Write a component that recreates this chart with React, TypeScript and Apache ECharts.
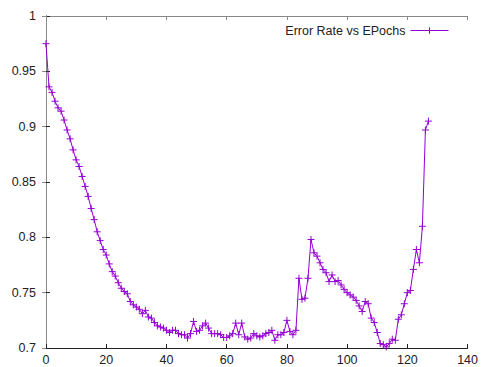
import React, { useEffect, useRef } from "react";
import * as echarts from "echarts";

const seriesName = "Error Rate vs EPochs";
const xTicks = { min: 0, max: 140, interval: 20 };
const yTicks = { min: 0.7, max: 1, interval: 0.05 };
const errorRate: number[] = [
  0.975, 0.936, 0.931, 0.923, 0.917, 0.914, 0.906, 0.897, 0.889, 0.879,
  0.870, 0.864, 0.855, 0.846, 0.837, 0.826, 0.816, 0.805, 0.797, 0.789,
  0.784, 0.776, 0.769, 0.765, 0.759, 0.754, 0.751, 0.749, 0.742, 0.739,
  0.737, 0.735, 0.731, 0.734, 0.728, 0.727, 0.723, 0.720, 0.719, 0.718,
  0.716, 0.714, 0.716, 0.716, 0.713, 0.712, 0.712, 0.709, 0.713, 0.724,
  0.715, 0.716, 0.720, 0.7225, 0.718, 0.713, 0.713, 0.713, 0.712, 0.7095,
  0.7095, 0.711, 0.713, 0.7225, 0.712, 0.7225, 0.710, 0.708, 0.709, 0.713,
  0.711, 0.710, 0.711, 0.713, 0.714, 0.716, 0.707, 0.712, 0.712, 0.714,
  0.725, 0.715, 0.712, 0.716, 0.763, 0.744, 0.745, 0.763, 0.798, 0.786,
  0.783, 0.777, 0.771, 0.768, 0.760, 0.766, 0.760, 0.761, 0.757, 0.753,
  0.750, 0.748, 0.746, 0.743, 0.738, 0.733, 0.742, 0.740, 0.727, 0.723,
  0.714, 0.704, 0.703, 0.701, 0.704, 0.708, 0.707, 0.726, 0.730, 0.740,
  0.750, 0.752, 0.771, 0.789, 0.777, 0.810, 0.897, 0.905,
];
const epochs: number[] = errorRate.map((_, i) => i);

const FONT = "Liberation Sans, Arial, sans-serif";
const PURPLE = "#9400d3";
const PLUS = "path://M5,0L5,10M0,5L10,5";

export default function App() {
  const ref = useRef<HTMLDivElement>(null);
  useEffect(() => {
    if (!ref.current) return;
    const chart = echarts.init(ref.current, undefined, { renderer: "svg" });
    const fmtY = (v: number) => String(parseFloat(v.toFixed(2)));
    const baseAxisLine = { show: true, lineStyle: { color: "#222", width: 1 } };
    chart.setOption({
      animation: false,
      backgroundColor: "#fff",
      grid: { left: 46, right: 13, top: 16, bottom: 19, containLabel: false },
      legend: {
        show: true,
        right: 27,
        top: 19,
        itemWidth: 38,
        itemHeight: 8,
        align: "right",
        itemGap: 8,
        itemStyle: { color: "none", borderColor: PURPLE, borderWidth: 1 },
        lineStyle: { color: PURPLE, width: 1 },
        textStyle: { fontFamily: FONT, fontSize: 12.5, color: "#222" },
        data: [seriesName],
      },
      xAxis: [
        {
          type: "value",
          ...xTicks,
          axisLine: baseAxisLine,
          axisTick: { show: true, inside: true, length: 4, lineStyle: { color: "#222" } },
          axisLabel: { fontFamily: FONT, fontSize: 12.5, color: "#222", margin: 5 },
          splitLine: { show: false },
        },
        {
          type: "value",
          position: "top",
          ...xTicks,
          axisLine: { show: true, lineStyle: { color: "#888", width: 1 } },
          axisTick: { show: true, inside: true, length: 4, lineStyle: { color: "#888" } },
          axisLabel: { show: false },
          splitLine: { show: false },
        },
      ],
      yAxis: [
        {
          type: "value",
          ...yTicks,
          axisLine: baseAxisLine,
          axisTick: { show: true, inside: true, length: 4, lineStyle: { color: "#222" } },
          axisLabel: { fontFamily: FONT, fontSize: 12.5, color: "#222", margin: 10, formatter: fmtY },
          splitLine: { show: false },
        },
        {
          type: "value",
          position: "right",
          ...yTicks,
          axisLine: { show: true, lineStyle: { color: "#888", width: 1 } },
          axisTick: { show: true, inside: true, length: 4, lineStyle: { color: "#888" } },
          axisLabel: { show: false },
          splitLine: { show: false },
        },
      ],
      series: [
        {
          name: seriesName,
          type: "line",
          xAxisIndex: 0,
          yAxisIndex: 0,
          data: epochs.map((x, i) => [x, errorRate[i]]),
          symbol: PLUS,
          symbolSize: 7,
          showAllSymbol: true,
          lineStyle: { color: PURPLE, width: 1 },
          itemStyle: { color: "none", borderColor: PURPLE, borderWidth: 1 },
          emphasis: { disabled: true },
        },
      ],
    });
    return () => chart.dispose();
  }, []);
  return (
    <div
      ref={ref}
      style={{ position: "fixed", left: 0, top: 0, width: 481, height: 367, background: "#fff" }}
    />
  );
}
